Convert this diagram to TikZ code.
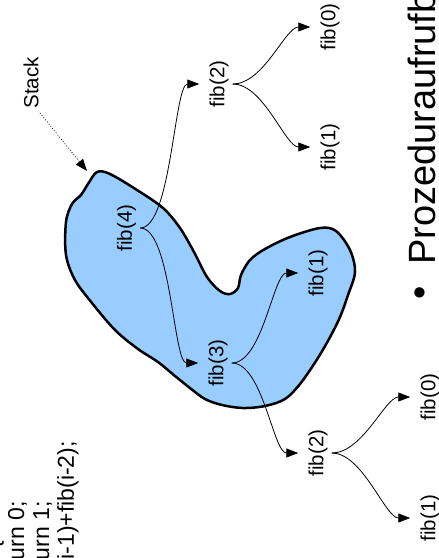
\documentclass[tikz,border=0pt]{standalone}
\usepackage{fontspec}
\setmainfont{Liberation Sans}
\usetikzlibrary{arrows.meta}
\definecolor{blobfill}{RGB}{153,204,255}
\begin{document}
\begin{tikzpicture}[x=1pt,y=-1pt,
  lab/.style={rotate=90, inner sep=0pt, font=\fontsize{20.5}{24.6}\selectfont},
  codeline/.style={rotate=90, inner sep=0pt, anchor=base east, font=\fontsize{23}{25}\selectfont},
  tip/.style={-{Triangle[length=12pt,width=9pt]}},
  conn/.style={line width=0.8pt, tip, shorten >=10pt, shorten <=4pt},
]
\useasboundingbox (0,0) rectangle (439,558);
% stack blob
\draw[line width=2.5pt, fill=blobfill] plot[smooth cycle, tension=0.55] coordinates {
 (97,172) (110,174) (137,190) (163,208) (180,228) (194,252) (207,277) (220,291) (230,294)
 (238,288) (241,275) (250,260) (265,249) (290,237) (320,228) (336,231) (350,250) (355,272)
 (348,295) (340,317) (329,339) (316,361) (300,384) (285,399) (265,406) (243,408) (222,405)
 (205,399) (190,388) (175,376) (158,362) (138,349) (115,330) (92,303) (75,280) (66,255)
 (66,222) (72,204) (81,195) (88,184)};
% code lines
\node[codeline] (c1) at (-1,541) {\{};
\node[codeline] (c2) at (24,501) {return 0;};
\node[codeline] (c3) at (49,501) {return 1;};
\node[codeline] (c4) at (74,441) {fib(i-1)+fib(i-2);};
% labels
\node[lab] (stack) at (31,83) {Stack};
\node[lab] (f4) at (126.5,228) {fib(4)};
\node[lab] (f2t) at (219,84) {fib(2)};
\node[lab] (f0t) at (330,27) {fib(0)};
\node[lab] (f1t) at (330,147) {fib(1)};
\node[lab] (f1m) at (318,273) {fib(1)};
\node[lab] (f3) at (218,363) {fib(3)};
\node[lab] (f2b) at (318,453) {fib(2)};
\node[lab] (f0b) at (430,397) {fib(0)};
\node[lab] (f1b) at (430,518) {fib(1)};
% bullet title
\node[rotate=90, inner sep=0pt, font=\fontsize{38}{45}\selectfont] (bul) at (424,293) {•};
\node[rotate=90, inner sep=0pt, anchor=base west, font=\fontsize{38}{45}\selectfont] (title) at (435,265) {Prozeduraufrufb};
% dotted stack arrow
\coordinate (sa) at (40,113);
\coordinate (sb) at (87,171);
\draw[line width=0.8pt, dotted, tip] (sa) -- (sb);
% connectors
\draw[conn] (f4.south) .. controls +(35,0) and +(-35,0) .. (f2t.north);
\draw[conn] (f4.south) .. controls +(35,0) and +(-35,0) .. (f3.north);
\draw[conn] (f2t.south) .. controls +(35,0) and +(-35,0) .. (f0t.north);
\draw[conn] (f2t.south) .. controls +(35,0) and +(-35,0) .. (f1t.north);
\draw[conn] (f3.south) .. controls +(35,0) and +(-35,0) .. (f1m.north);
\draw[conn] (f3.south) .. controls +(35,0) and +(-35,0) .. (f2b.north);
\draw[conn] (f2b.south) .. controls +(35,0) and +(-35,0) .. (f0b.north);
\draw[conn] (f2b.south) .. controls +(35,0) and +(-35,0) .. (f1b.north);
\end{tikzpicture}
\end{document}
